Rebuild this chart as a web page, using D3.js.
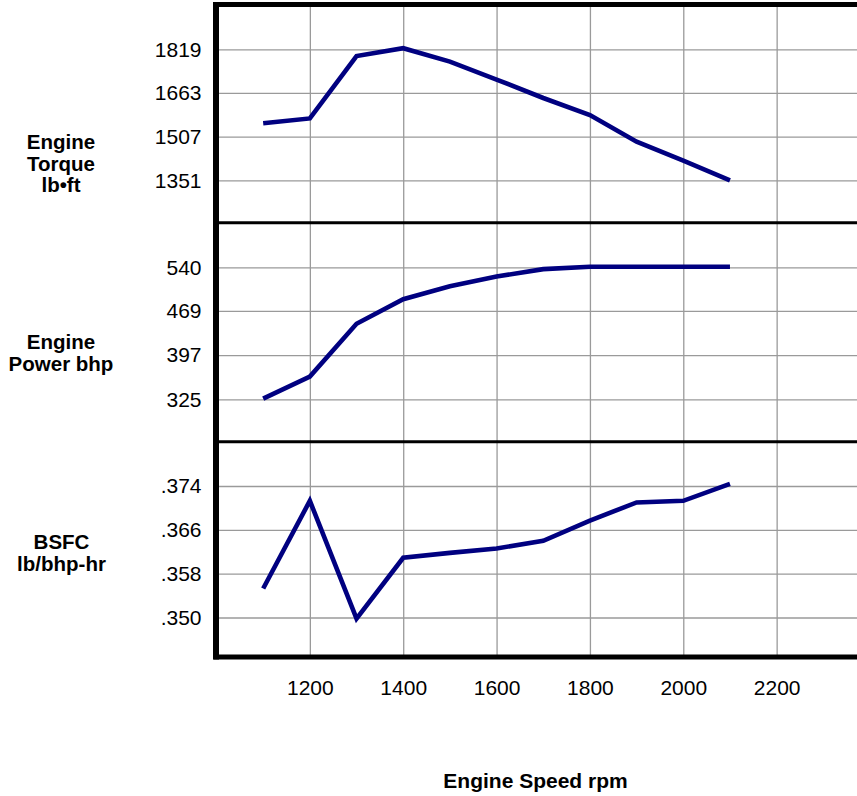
<!DOCTYPE html>
<html>
<head>
<meta charset="utf-8">
<script src="https://cdn.jsdelivr.net/npm/d3@7"></script>
<style>
  html, body { margin: 0; padding: 0; background: #fff; }
  svg { display: block; }
  text { font-family: "Liberation Sans", Arial, Helvetica, sans-serif; fill: #000; }
</style>
</head>
<body>
<svg id="chart" width="857" height="796"></svg>
<script>
// ---- data ----
const rpm = [1100, 1200, 1300, 1400, 1500, 1600, 1700, 1800, 1900, 2000, 2100];
const torque = [1555, 1572, 1795, 1823, 1775, 1711, 1645, 1584, 1489, 1421, 1351];
const power = [326, 362, 448, 488, 509, 525, 537, 541, 541, 541, 541];
const bsfc = [0.3553, 0.3713, 0.3498, 0.3609, 0.3618, 0.3626, 0.3640, 0.3677, 0.3710, 0.3713, 0.3744];

const xTicks = [1200, 1400, 1600, 1800, 2000, 2200];
const xGrid = [1200, 1400, 1600, 1800, 2000, 2200, 2400];
const torqueTicks = [1351, 1507, 1663, 1819];
const powerTicks = [325, 397, 469, 540];
const bsfcTicks = [0.350, 0.358, 0.366, 0.374];

const xTitle = "Engine Speed rpm";
const torqueLabel = ["Engine", "Torque", "lb\u2022ft"];
const powerLabel = ["Engine", "Power bhp"];
const bsfcLabel = ["BSFC", "lb/bhp-hr"];

// ---- layout ----
const L = { left: 216.5, right: 870, top: 4.5, sep1: 222.7, sep2: 441.7, bottom: 657 };

const svg = d3.select("#chart");

const x = d3.scaleLinear().domain([1000, 2400]).range([L.left, L.right]);
const yT = d3.scaleLinear().domain([1351, 1819]).range([180.3, 49.3]);
const yP = d3.scaleLinear().domain([325, 540]).range([399.3, 267.3]);
const yB = d3.scaleLinear().domain([0.350, 0.374]).range([617.5, 486]);

const gridColor = "#9a9a9a";
const fontFam = '"Liberation Sans", Arial, sans-serif';

// vertical grid
const xAxisGrid = d3.axisBottom(x).tickValues(xGrid).tickSize(-(L.bottom - L.top)).tickFormat("");
svg.append("g").attr("transform", `translate(0,${L.bottom})`).call(xAxisGrid)
  .call(g => g.select(".domain").remove())
  .call(g => g.selectAll("line").attr("stroke", gridColor).attr("stroke-width", 1.3));

// x tick labels
const xAxis = d3.axisBottom(x).tickValues(xTicks).tickSize(0).tickPadding(23).tickFormat(d3.format("d"));
svg.append("g").attr("transform", `translate(0,${L.bottom})`).call(xAxis)
  .call(g => g.select(".domain").remove())
  .call(g => g.selectAll("text").attr("font-size", 21).attr("fill", "#000").style("font-family", fontFam));

// horizontal grids + y tick labels
function yAxis(scale, ticks, fmt) {
  const ax = d3.axisLeft(scale).tickValues(ticks).tickSize(-(L.right - L.left)).tickPadding(15).tickFormat(fmt);
  svg.append("g").attr("transform", `translate(${L.left},0)`).call(ax)
    .call(g => g.select(".domain").remove())
    .call(g => g.selectAll("line").attr("stroke", gridColor).attr("stroke-width", 1.3))
    .call(g => g.selectAll("text").attr("font-size", 21).attr("fill", "#000").style("font-family", fontFam));
}
yAxis(yT, torqueTicks, d3.format("d"));
yAxis(yP, powerTicks, d3.format("d"));
yAxis(yB, bsfcTicks, d => d3.format(".3f")(d).replace(/^0/, ""));

// lines
const series = [
  { values: torque, y: yT },
  { values: power, y: yP },
  { values: bsfc, y: yB }
];
series.forEach(s => {
  const line = d3.line().x((d, i) => x(rpm[i])).y(d => s.y(d));
  svg.append("path").datum(s.values).attr("d", line)
    .attr("fill", "none").attr("stroke", "#000080").attr("stroke-width", 4.6)
    .attr("stroke-linejoin", "miter").attr("stroke-linecap", "butt");
});

// frame
const frame = svg.append("g").attr("stroke", "#000").attr("fill", "none");
frame.append("line").attr("x1", L.left - 3).attr("x2", 860).attr("y1", L.top).attr("y2", L.top).attr("stroke-width", 5);
frame.append("line").attr("x1", L.left).attr("x2", 860).attr("y1", L.sep1).attr("y2", L.sep1).attr("stroke-width", 3);
frame.append("line").attr("x1", L.left).attr("x2", 860).attr("y1", L.sep2).attr("y2", L.sep2).attr("stroke-width", 3);
frame.append("line").attr("x1", L.left - 3).attr("x2", 860).attr("y1", L.bottom).attr("y2", L.bottom).attr("stroke-width", 5);
frame.append("line").attr("x1", L.left - 0.5).attr("x2", L.left - 0.5).attr("y1", L.top - 2.5).attr("y2", L.bottom + 2.5).attr("stroke-width", 6);

// panel labels
function label(lines, cx, baselines) {
  lines.forEach((t, i) => {
    svg.append("text").attr("x", cx).attr("y", baselines[i]).attr("text-anchor", "middle")
      .attr("font-size", 20.5).attr("font-weight", "bold").text(t);
  });
}
label(torqueLabel, 61, [149, 170.7, 192.3]);
label(powerLabel, 61, [349, 370.7]);
label(bsfcLabel, 61.5, [549, 570.7]);

// x title
svg.append("text").attr("x", 535.5).attr("y", 788).attr("text-anchor", "middle")
  .attr("font-size", 21).attr("font-weight", "bold").text(xTitle);
</script>
</body>
</html>
